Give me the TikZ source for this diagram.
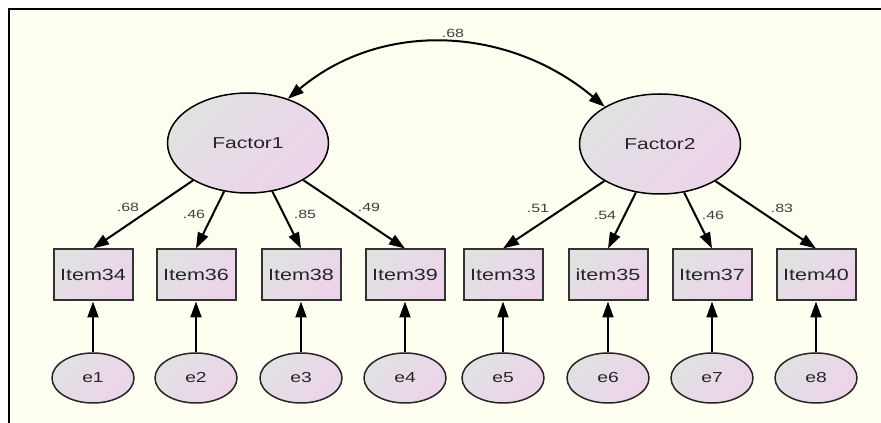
\documentclass[tikz,border=0pt]{standalone}
\usepackage{fontspec}
\setmainfont{Liberation Sans}
\usepackage{graphicx}
\usetikzlibrary{arrows.meta,shapes.geometric}
\newcommand{\hs}[1]{\scalebox{1.33}[1]{#1}}
\definecolor{gtop}{RGB}{224,226,226}
\definecolor{gbot}{RGB}{237,211,234}
\definecolor{bgyel}{RGB}{254,255,240}
\begin{document}
\begin{tikzpicture}[x=1pt,y=1pt,
  shd/.style={top color=gtop, bottom color=gbot, shading angle=45},
  latent/.style={ellipse, draw=black, line width=1.5pt, minimum width=161pt, minimum height=100pt, inner sep=0pt, shd, font=\fontsize{15.8}{16}\selectfont, text=black!85},
  obs/.style={rectangle, draw=black!80, line width=2pt, minimum width=79pt, minimum height=51pt, inner sep=0pt, shd, font=\fontsize{16.2}{16}\selectfont, text=black!85},
  err/.style={ellipse, draw=black!85, line width=1.5pt, minimum width=82pt, minimum height=50pt, inner sep=0pt, shd, font=\fontsize{14.5}{15}\selectfont, text=black!85},
  arr/.style={-{Triangle[length=16pt,width=11pt]}, line width=2pt, black},
  corr/.style={{Triangle[length=16pt,width=11pt]}-{Triangle[length=16pt,width=11pt]}, line width=2pt, black},
  lab/.style={font=\fontsize{12}{12}\selectfont, text=black!75, inner sep=0pt}]
\useasboundingbox (0,0) rectangle (881,423);
\fill[white] (0,0) rectangle (881,423);
\fill[bgyel] (9,0) rectangle (881,414);
\draw[line width=2pt, black] (9,0) -- (9,414) -- (881,414);

\node[latent] (f1) at (248,280) {\hs{Factor1}};
\node[latent] (f2) at (660,279) {\hs{Factor2}};

\foreach \n/\x/\t in {1/93/Item34, 2/196/Item36, 3/301/Item38, 4/405/Item39, 5/503/Item33, 6/608/item35, 7/712/Item37, 8/816/Item40}{
  \node[obs] (i\n) at (\x,148) {\hs{\t}};
  \node[err] (e\n) at (\x,45) {\hs{e\n}};
  \draw[arr] (e\n) -- (i\n);
}
\foreach \n in {1,2,3,4}{ \draw[arr] (f1) -- (i\n.north); }
\foreach \n in {5,6,7,8}{ \draw[arr] (f2) -- (i\n.north); }

\node[lab] (l1) at (128,216) {\hs{.68}};
\node[lab] (l2) at (194,209) {\hs{.46}};
\node[lab] (l3) at (305,209) {\hs{.85}};
\node[lab] (l4) at (369,216) {\hs{.49}};
\node[lab] (l5) at (538,215) {\hs{.51}};
\node[lab] (l6) at (605,208) {\hs{.54}};
\node[lab] (l7) at (713,208) {\hs{.46}};
\node[lab] (l8) at (782,215) {\hs{.83}};

\draw[corr] (f1.48) to[out=40,in=140] (f2.146);
\node[lab] (lc) at (453,390) {\hs{.68}};
\end{tikzpicture}
\end{document}
